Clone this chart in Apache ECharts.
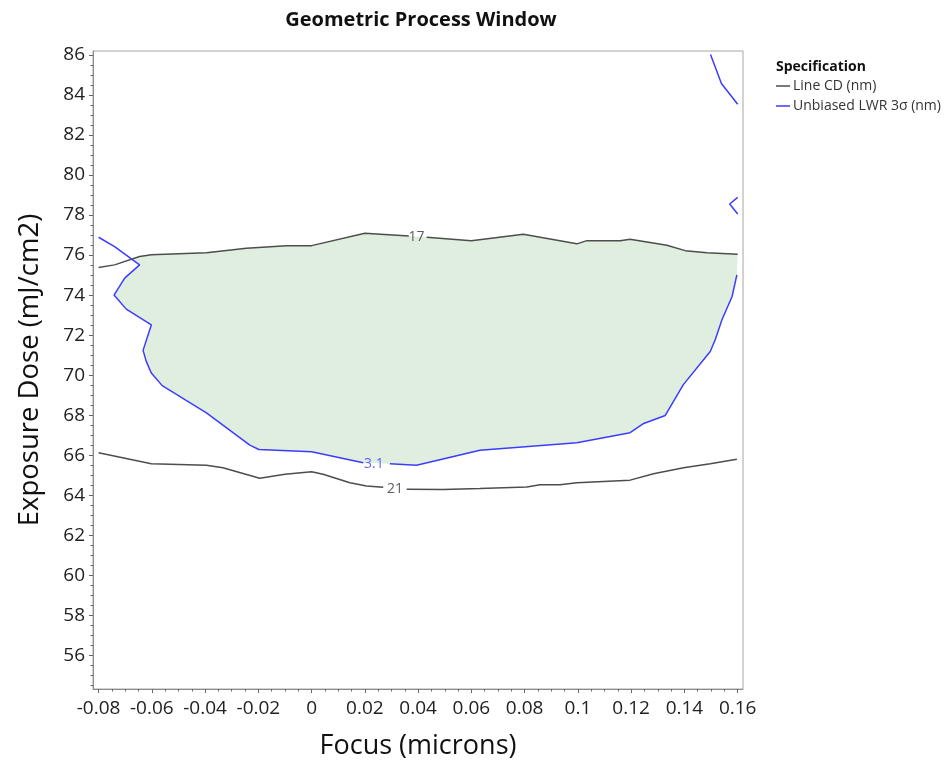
<!DOCTYPE html>
<html>
<head>
<meta charset="utf-8">
<title>Geometric Process Window</title>
<script src="https://cdn.jsdelivr.net/npm/echarts@6/dist/echarts.min.js"></script>
<style>
  html, body { margin: 0; padding: 0; background: #fff; }
  #chart { width: 946px; height: 765px; }
</style>
</head>
<body>
<div id="chart"></div>
<script>
// Axis tick values
const focusTicks = [-0.08, -0.06, -0.04, -0.02, 0, 0.02, 0.04, 0.06, 0.08, 0.1, 0.12, 0.14, 0.16];
const doseTicks = [56, 58, 60, 62, 64, 66, 68, 70, 72, 74, 76, 78, 80, 82, 84, 86];

// Line CD = 17 nm contour (split where the "17" label sits)
const cd17Left = [
  [-0.08, 75.38], [-0.074, 75.51], [-0.0646, 75.93], [-0.0602, 76.01], [-0.0395, 76.12],
  [-0.0245, 76.34], [-0.0094, 76.46], [0.0, 76.47], [0.02, 77.09], [0.0365, 76.95]
];
const cd17Right = [
  [0.0432, 76.89], [0.06, 76.72], [0.0795, 77.04], [0.0996, 76.56], [0.1034, 76.72],
  [0.1159, 76.71], [0.1196, 76.79], [0.1334, 76.49], [0.1403, 76.22], [0.1485, 76.12], [0.16, 76.04]
];

// Line CD = 21 nm contour
const cd21Left = [
  [-0.08, 66.13], [-0.0602, 65.58], [-0.0395, 65.50], [-0.0333, 65.38], [-0.0195, 64.85],
  [-0.010, 65.05], [0.0, 65.18], [0.0043, 65.05], [0.0144, 64.63], [0.0206, 64.47], [0.0269, 64.40]
];
const cd21Right = [
  [0.0357, 64.30], [0.0494, 64.29], [0.0632, 64.34], [0.0808, 64.42], [0.0858, 64.53],
  [0.0933, 64.53], [0.0996, 64.63], [0.1196, 64.76], [0.1284, 65.08], [0.1397, 65.38],
  [0.1497, 65.58], [0.1597, 65.80]
];

// Unbiased LWR 3σ = 3.1 nm contour
const lwrLeft = [
  [-0.08, 76.89], [-0.074, 76.42], [-0.0646, 75.51], [-0.0702, 74.85], [-0.0742, 74.00],
  [-0.0696, 73.30], [-0.0602, 72.51], [-0.0633, 71.24], [-0.0621, 70.69], [-0.0602, 70.11],
  [-0.0561, 69.48], [-0.0395, 68.12], [-0.0232, 66.51], [-0.0198, 66.29], [0.0, 66.18], [0.0194, 65.63]
];
const lwrRight = [
  [0.0294, 65.58], [0.0394, 65.50], [0.0632, 66.25], [0.0996, 66.63], [0.1196, 67.13],
  [0.1247, 67.59], [0.1328, 67.99], [0.1396, 69.53], [0.1497, 71.18], [0.1516, 71.78],
  [0.1541, 72.77], [0.1579, 73.93], [0.1597, 75.01]
];
const lwrTopRight = [[0.1498, 86.02], [0.1539, 84.57], [0.16, 83.53]];
const lwrNotch = [[0.16, 78.88], [0.157, 78.55], [0.16, 78.05]];

// Where the LWR contour crosses the 17 nm CD contour on the left
const windowCorner = [-0.0677, 75.8];

// Contour value labels
const cdLabels = [[0.0394, 76.91, '17'], [0.0313, 64.32, '21']];
const lwrLabels = [[0.0234, 65.55, '3.1']];

// Minor tick positions
const focusMinor = [];
for (let i = -16; i <= 32; i++) { if (i % 4 !== 0) focusMinor.push(i * 0.005); }
const doseMinor = [];
for (let v = 54.5; v <= 86; v += 0.5) { if (v % 2 !== 0) doseMinor.push(v); }

// Process window: bounded above by the 17 nm CD contour, elsewhere by the LWR contour
const windowPoly = [windowCorner]
  .concat(cd17Left.filter(p => p[0] > windowCorner[0]))
  .concat(cd17Right)
  .concat(lwrRight.slice().reverse())
  .concat(lwrLeft.slice(2).reverse());

const FONT = 'Open Sans';
const CD_COLOR = '#4d4d4d';
const LWR_COLOR = '#3c3cff';

const chart = echarts.init(document.getElementById('chart'), null, { renderer: 'canvas' });

function fmtTick(v) { return String(+Number(v).toFixed(3)); }

const lineBase = { type: 'line', showSymbol: false, symbol: 'none', silent: true, z: 3 };

chart.setOption({
  animation: false,
  textStyle: { fontFamily: FONT },
  title: [
    {
      text: 'Geometric Process Window',
      left: 416, top: 5, textAlign: 'center',
      textStyle: { fontSize: 20, fontWeight: 'bold', color: '#111', fontFamily: FONT }
    },
    {
      text: 'Specification',
      left: 771, top: 55,
      textStyle: { fontSize: 14, fontWeight: 'bold', color: '#111', fontFamily: FONT }
    }
  ],
  legend: {
    data: ['Line CD (nm)', 'Unbiased LWR 3σ (nm)'],
    orient: 'vertical',
    left: 776, top: 77, padding: 0,
    icon: 'rect', itemWidth: 14, itemHeight: 1.5, itemGap: 2,
    selectedMode: false,
    textStyle: { fontSize: 14, color: '#333', fontFamily: FONT, lineHeight: 18, padding: [0, 0, 0, -2] }
  },
  grid: {
    left: 93, right: 203, top: 51, bottom: 75,
    show: true, borderColor: '#a6a6a6', borderWidth: 1, backgroundColor: '#fff'
  },
  xAxis: [
    {
      type: 'value', min: -0.0821, max: 0.162,
      name: 'Focus (microns)', nameLocation: 'middle', nameGap: 44,
      nameTextStyle: { fontSize: 27, color: '#111', fontFamily: FONT },
      axisLine: { show: true, onZero: false, lineStyle: { color: '#8c8c8c' } },
      axisTick: { show: true, length: 4, customValues: focusTicks, lineStyle: { color: '#666' } },
      axisLabel: { customValues: focusTicks, formatter: fmtTick, fontSize: 19, color: '#222', margin: 10, fontFamily: FONT },
      splitLine: { show: false }
    },
    {
      type: 'value', min: -0.0821, max: 0.162, position: 'bottom',
      axisLine: { show: false, onZero: false },
      axisTick: { show: true, length: 2.5, customValues: focusMinor, lineStyle: { color: '#666' } },
      axisLabel: { show: false },
      splitLine: { show: false }
    }
  ],
  yAxis: [
    {
      type: 'value', min: 54.33, max: 86.19,
      name: 'Exposure Dose (mJ/cm2)', nameLocation: 'middle', nameGap: 49,
      nameTextStyle: { fontSize: 27.5, color: '#111', fontFamily: FONT },
      axisLine: { show: true, onZero: false, lineStyle: { color: '#8c8c8c' } },
      axisTick: { show: true, length: 4, customValues: doseTicks, lineStyle: { color: '#666' } },
      axisLabel: { customValues: doseTicks, fontSize: 19, color: '#222', margin: 8, fontFamily: FONT },
      splitLine: { show: false }
    },
    {
      type: 'value', min: 54.33, max: 86.19, position: 'left',
      axisLine: { show: false, onZero: false },
      axisTick: { show: true, length: 2.5, customValues: doseMinor, lineStyle: { color: '#666' } },
      axisLabel: { show: false },
      splitLine: { show: false }
    }
  ],
  series: [
    {
      type: 'custom', silent: true, z: 1,
      data: [[0.04, 70]],
      renderItem: function (params, api) {
        return {
          type: 'polygon',
          shape: { points: windowPoly.map(p => api.coord(p)) },
          style: { fill: '#dfeedf', stroke: null }
        };
      }
    },
    Object.assign({ name: 'Line CD (nm)', data: cd17Left, color: CD_COLOR, lineStyle: { width: 1.5, color: CD_COLOR } }, lineBase),
    Object.assign({ name: 'Line CD (nm)', data: cd17Right, color: CD_COLOR, lineStyle: { width: 1.5, color: CD_COLOR } }, lineBase),
    Object.assign({ name: 'Line CD (nm)', data: cd21Left, color: CD_COLOR, lineStyle: { width: 1.5, color: CD_COLOR } }, lineBase),
    Object.assign({ name: 'Line CD (nm)', data: cd21Right, color: CD_COLOR, lineStyle: { width: 1.5, color: CD_COLOR } }, lineBase),
    Object.assign({ name: 'Unbiased LWR 3σ (nm)', data: lwrLeft, color: LWR_COLOR, lineStyle: { width: 1.5, color: LWR_COLOR } }, lineBase),
    Object.assign({ name: 'Unbiased LWR 3σ (nm)', data: lwrRight, color: LWR_COLOR, lineStyle: { width: 1.5, color: LWR_COLOR } }, lineBase),
    Object.assign({ name: 'Unbiased LWR 3σ (nm)', data: lwrTopRight, color: LWR_COLOR, lineStyle: { width: 1.5, color: LWR_COLOR } }, lineBase),
    Object.assign({ name: 'Unbiased LWR 3σ (nm)', data: lwrNotch, color: LWR_COLOR, lineStyle: { width: 1.5, color: LWR_COLOR } }, lineBase),
    {
      type: 'scatter', silent: true, z: 4, symbolSize: 0,
      data: cdLabels,
      label: {
        show: true, position: 'inside', formatter: p => p.value[2],
        fontSize: 14, color: '#333', fontFamily: FONT
      }
    },
    {
      type: 'scatter', silent: true, z: 4, symbolSize: 0,
      data: lwrLabels,
      label: {
        show: true, position: 'inside', formatter: p => p.value[2],
        fontSize: 14, color: LWR_COLOR, fontFamily: FONT
      }
    }
  ]
});
</script>
</body>
</html>
